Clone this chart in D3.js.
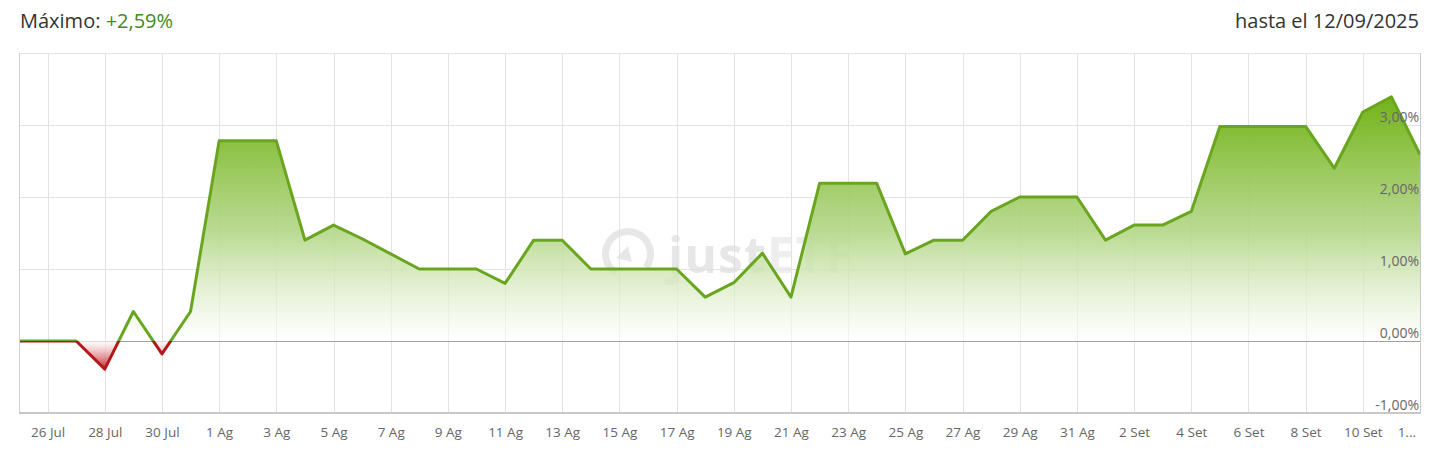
<!DOCTYPE html>
<html>
<head>
<meta charset="utf-8">
<script src="https://cdn.jsdelivr.net/npm/d3@7"></script>
<style>
  html, body { margin: 0; padding: 0; background: #fff; }
  svg { display: block; font-family: "Open Sans", "Noto Sans", sans-serif; }
</style>
</head>
<body>
<svg id="chart" width="1435" height="457"></svg>
<script>
// ---- data ----
const dates = [
  "25 Jul","26 Jul","27 Jul","28 Jul","29 Jul","30 Jul","31 Jul",
  "1 Ag","2 Ag","3 Ag","4 Ag","5 Ag","6 Ag","7 Ag","8 Ag","9 Ag","10 Ag",
  "11 Ag","12 Ag","13 Ag","14 Ag","15 Ag","16 Ag","17 Ag","18 Ag","19 Ag","20 Ag",
  "21 Ag","22 Ag","23 Ag","24 Ag","25 Ag","26 Ag","27 Ag","28 Ag","29 Ag","30 Ag","31 Ag",
  "1 Set","2 Set","3 Set","4 Set","5 Set","6 Set","7 Set","8 Set","9 Set","10 Set","11 Set","12 Set"
];
const values = [
  0.00, 0.00, 0.00, -0.39, 0.41, -0.18, 0.41,
  2.78, 2.78, 2.78, 1.40, 1.61, 1.42, 1.21, 1.00, 1.00, 1.00,
  0.80, 1.40, 1.40, 1.00, 1.00, 1.00, 1.00, 0.61, 0.81, 1.22,
  0.61, 2.19, 2.19, 2.19, 1.21, 1.40, 1.40, 1.80, 2.00, 2.00, 2.00,
  1.40, 1.61, 1.61, 1.80, 2.98, 2.98, 2.98, 2.98, 2.40, 3.18, 3.39, 2.59
];
const tickDates = [
  "26 Jul","28 Jul","30 Jul","1 Ag","3 Ag","5 Ag","7 Ag","9 Ag","11 Ag","13 Ag",
  "15 Ag","17 Ag","19 Ag","21 Ag","23 Ag","25 Ag","27 Ag","29 Ag","31 Ag",
  "2 Set","4 Set","6 Set","8 Set","10 Set"
];
const yTicks = [-1, 0, 1, 2, 3];
const yTickLabels = ["-1,00%","0,00%","1,00%","2,00%","3,00%"];
const headerLabel = "Máximo: ";
const headerValue = "+2,59%";
const headerRight = "hasta el 12/09/2025";
const lastTickLabel = "1...";

// ---- layout ----
const L = 19, R = 1420, T = 53, B = 413;
const svg = d3.select("#chart");
const x = d3.scalePoint().domain(dates).range([L, R]).padding(0);
const y = d3.scaleLinear().domain([-1, 4]).range([B, T]);
const data = dates.map((d, i) => ({ d, v: values[i] }));
const y0 = y(0);

const defs = svg.append("defs");
const gGrad = defs.append("linearGradient").attr("id", "gGrad")
  .attr("gradientUnits", "userSpaceOnUse").attr("x1", 0).attr("x2", 0)
  .attr("y1", y(d3.max(values))).attr("y2", y0);
gGrad.append("stop").attr("offset", "0%").attr("stop-color", "#72b318").attr("stop-opacity", 1);
gGrad.append("stop").attr("offset", "55%").attr("stop-color", "#b2d686").attr("stop-opacity", 0.9);
gGrad.append("stop").attr("offset", "100%").attr("stop-color", "#ffffff").attr("stop-opacity", 0.6);
const rGrad = defs.append("linearGradient").attr("id", "rGrad")
  .attr("gradientUnits", "userSpaceOnUse").attr("x1", 0).attr("x2", 0)
  .attr("y1", y0).attr("y2", y(d3.min(values)));
rGrad.append("stop").attr("offset", "0%").attr("stop-color", "#ffffff").attr("stop-opacity", 0.6);
rGrad.append("stop").attr("offset", "100%").attr("stop-color", "#c0242a").attr("stop-opacity", 1);

defs.append("clipPath").attr("id", "clipPos").append("rect")
  .attr("x", L - 5).attr("y", 0).attr("width", R - L + 10).attr("height", y0);
defs.append("clipPath").attr("id", "clipNeg").append("rect")
  .attr("x", L - 5).attr("y", y0).attr("width", R - L + 10).attr("height", 457 - y0);
defs.append("clipPath").attr("id", "clipPlot").append("rect")
  .attr("x", L).attr("y", T).attr("width", R - L).attr("height", B - T);

// ---- grid ----
const grid = svg.append("g");
grid.selectAll("line.h").data([1, 2, 3, 4]).enter().append("line")
  .attr("x1", L).attr("x2", R).attr("y1", d => y(d)).attr("y2", d => y(d))
  .attr("stroke", "#e3e3e3").attr("stroke-width", 1).attr("shape-rendering", "crispEdges");
grid.selectAll("line.v").data(tickDates).enter().append("line")
  .attr("x1", d => Math.round(x(d)) + 0.5).attr("x2", d => Math.round(x(d)) + 0.5)
  .attr("y1", T).attr("y2", B)
  .attr("stroke", "#e3e3e3").attr("stroke-width", 1);

// watermark
const wm = svg.append("g").attr("opacity", 0.7);
wm.append("path")
  .attr("d", d3.arc()({ innerRadius: 19, outerRadius: 26, startAngle: -2.6, endAngle: 2.2 }))
  .attr("transform", "translate(628,254)").attr("fill", "#dedede");
wm.append("path")
  .attr("d", "M 616 258 L 628 246 L 632 262 Z").attr("fill", "#dedede");
wm.append("text").attr("x", 668).attr("y", 273)
  .attr("font-size", 50).attr("font-weight", 700).attr("fill", "#dedede")
  .attr("letter-spacing", 1)
  .text("just").append("tspan").attr("fill", "#e8e8e8").text("ETF");

// zero line
svg.append("line").attr("x1", L).attr("x2", R).attr("y1", Math.round(y0) + 0.5).attr("y2", Math.round(y0) + 0.5)
  .attr("stroke", "#a0a0a0").attr("stroke-width", 1);

// ---- areas ----
const area = d3.area().x(d => x(d.d)).y0(y0).y1(d => y(d.v));
const line = d3.line().x(d => x(d.d)).y(d => y(d.v));
const plot = svg.append("g").attr("clip-path", "url(#clipPlot)");
plot.append("path").datum(data).attr("d", area).attr("fill", "url(#gGrad)").attr("clip-path", "url(#clipPos)");
plot.append("path").datum(data).attr("d", area).attr("fill", "url(#rGrad)").attr("clip-path", "url(#clipNeg)");
const lines = svg.append("g");
lines.append("g").attr("clip-path", "url(#clipPos)").append("path").datum(data).attr("d", line)
  .attr("fill", "none").attr("stroke", "#6aa51f").attr("stroke-width", 3).attr("stroke-linejoin", "round");
lines.append("g").attr("clip-path", "url(#clipNeg)").append("path").datum(data).attr("d", line)
  .attr("fill", "none").attr("stroke", "#b3181c").attr("stroke-width", 3).attr("stroke-linejoin", "round");

// ---- borders ----
svg.append("line").attr("x1", L + 0.5).attr("x2", L + 0.5).attr("y1", T).attr("y2", B)
  .attr("stroke", "#d0d0d0").attr("stroke-width", 1);
svg.append("line").attr("x1", R + 0.5).attr("x2", R + 0.5).attr("y1", T).attr("y2", B)
  .attr("stroke", "#c8c8c8").attr("stroke-width", 1);
svg.append("line").attr("x1", L).attr("x2", R + 1).attr("y1", B).attr("y2", B)
  .attr("stroke", "#c8c8c8").attr("stroke-width", 2);

// ---- y labels ----
svg.append("g").selectAll("text").data(yTicks).enter().append("text")
  .attr("x", R - 1).attr("y", d => y(d) - 3)
  .attr("text-anchor", "end").attr("font-size", 14).attr("fill", "#666")
  .text((d, i) => yTickLabels[i]);

// ---- x axis labels ----
const xAxis = d3.axisBottom(x).tickValues(tickDates).tickSize(0).tickPadding(0);
const xg = svg.append("g").attr("transform", `translate(0,${B + 14})`).call(xAxis);
xg.select(".domain").remove();
xg.selectAll("text").attr("font-size", 13.5).attr("fill", "#666")
  .attr("font-family", "'Open Sans', sans-serif").attr("dy", "0.71em");
svg.append("text").attr("x", R - 4).attr("y", B + 24).attr("text-anchor", "end")
  .attr("font-size", 13.5).attr("fill", "#666").text(lastTickLabel);

// ---- header ----
const h = svg.append("text").attr("x", 20).attr("y", 28).attr("font-size", 20).attr("fill", "#333");
h.append("tspan").text(headerLabel);
h.append("tspan").attr("fill", "#3f8a1e").text(headerValue);
svg.append("text").attr("x", R - 1).attr("y", 28).attr("text-anchor", "end")
  .attr("font-size", 20).attr("fill", "#333").text(headerRight);
</script>
</body>
</html>
